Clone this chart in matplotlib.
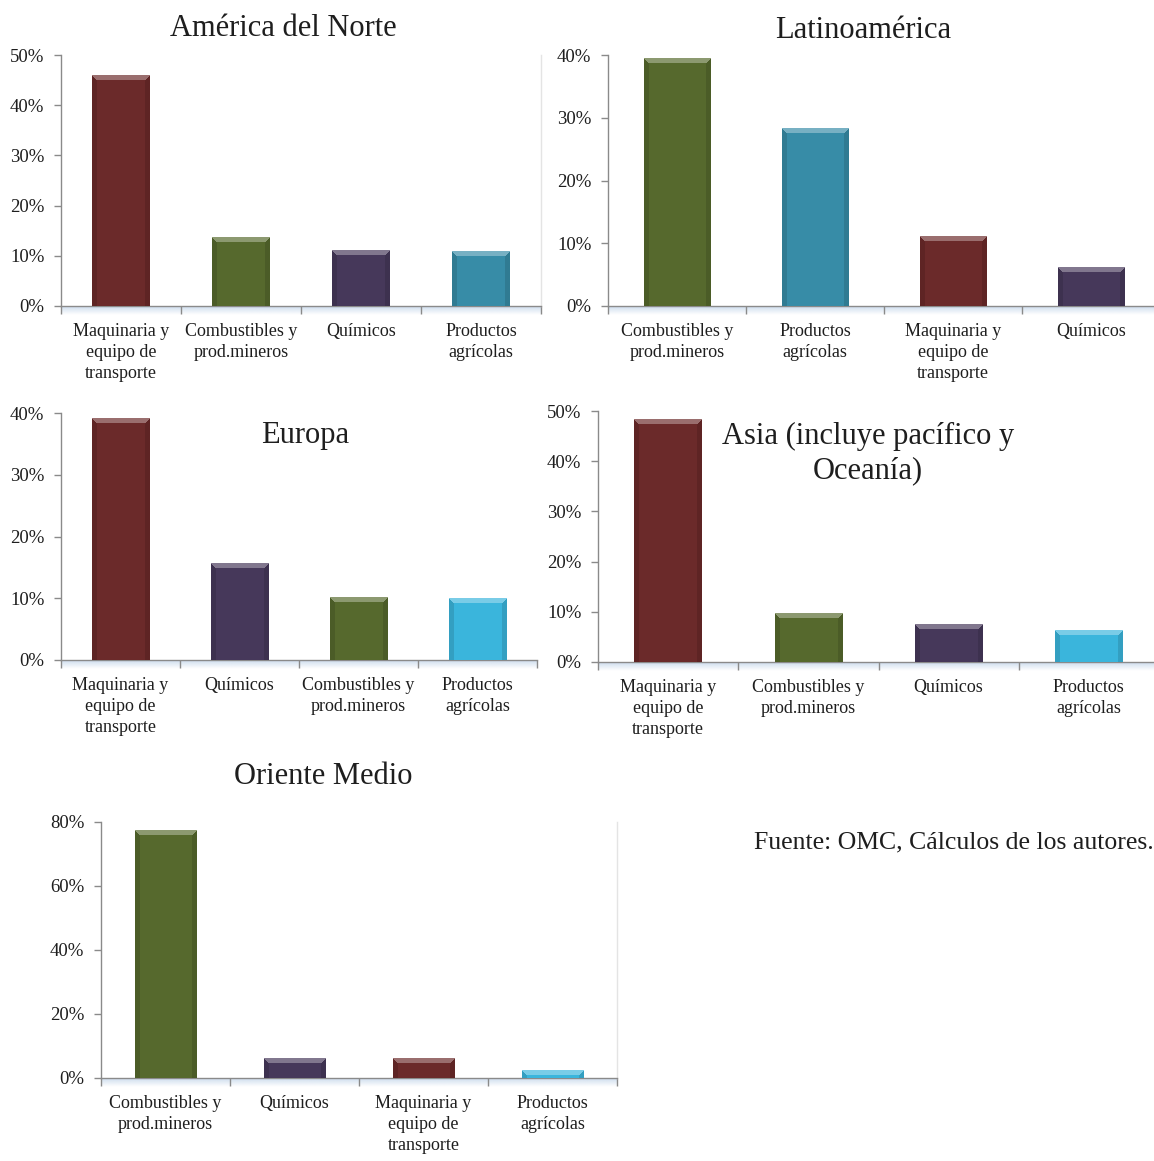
import numpy as np
import matplotlib
matplotlib.use("Agg")
import matplotlib.pyplot as plt
from matplotlib.ticker import FuncFormatter, FixedLocator
from matplotlib.colors import to_rgb

plt.rcParams['font.family'] = ['Liberation Serif', 'DejaVu Serif']

W, H, DPI = 1154, 1161, 100

MAQ = "Maquinaria y\nequipo de\ntransporte"
COMB = "Combustibles y\nprod.mineros"
QUIM = "Químicos"
AGRI = "Productos\nagrícolas"

# Share of exports by product group (%)
na_cats = [MAQ, COMB, QUIM, AGRI]
na_vals = [46.0, 13.6, 11.1, 10.8]

la_cats = [COMB, AGRI, MAQ, QUIM]
la_vals = [39.4, 28.3, 11.1, 6.2]

eu_cats = [MAQ, QUIM, COMB, AGRI]
eu_vals = [39.1, 15.7, 10.2, 9.9]

as_cats = [MAQ, COMB, QUIM, AGRI]
as_vals = [48.4, 9.6, 7.4, 6.3]

me_cats = [COMB, QUIM, MAQ, AGRI]
me_vals = [77.2, 6.2, 6.2, 2.5]

BASE_COLORS = {MAQ: "#6B2A2A", COMB: "#56692D", QUIM: "#46385A"}
AGRI_DARK = "#378CA7"
AGRI_BRIGHT = "#3AB5DC"

TEXT_COLOR = "#1E1E1E"
AXIS_COLOR = "#8A8A8A"

fig = plt.figure(figsize=(W / DPI, H / DPI), dpi=DPI)
fig.patch.set_facecolor("white")


def add_axes_px(left, top, right, bottom):
    return fig.add_axes([left / W, 1 - bottom / H, (right - left) / W, (bottom - top) / H])


def bevel_image(color, wpx, hpx, b=5):
    base = np.array(to_rgb(color))
    nx, ny = max(int(round(wpx)), 4), max(int(round(hpx)), 3)
    xx = np.arange(nx)[None, :] + 0.5
    yy = np.arange(ny)[:, None] + 0.5
    dx = np.minimum(xx, nx - xx) * np.ones_like(yy)
    dt = yy * np.ones_like(xx)
    img = np.tile(base, (ny, nx, 1))
    side = (dx < b) & ~((dt < b) & (dt < dx))
    img[side] = base * 0.88
    top = (dt < b) & (dt <= dx)
    light = base + (1 - base) * 0.32
    img[top] = light
    return img


def draw_panel(box, cats, vals, ymax, step, agri_color, right_line=False):
    ax = add_axes_px(*box)
    left, top, right, bottom = box
    px_per_cat = (right - left) / len(cats)
    px_per_unit = (bottom - top) / ymax
    x = np.arange(len(cats))
    colors = [agri_color if c == AGRI else BASE_COLORS[c] for c in cats]
    bars = ax.bar(x, vals, width=0.48, color=colors, edgecolor="none", zorder=2)
    for p, c in zip(bars.patches, colors):
        img = bevel_image(c, p.get_width() * px_per_cat, p.get_height() * px_per_unit)
        ax.imshow(img, extent=(p.get_x(), p.get_x() + p.get_width(), 0, p.get_height()),
                  aspect="auto", zorder=3, interpolation="nearest")
    # light floor shading beneath the category axis
    floor = np.linspace(0, 1, 20)[:, None] * np.ones((1, 2))
    rgba = np.zeros((20, 2, 4))
    rgba[..., :3] = to_rgb("#C9D9EC")
    rgba[..., 3] = 0.9 * (1 - floor)
    ax.imshow(rgba, extent=(0, 1, -9 / (bottom - top), 0), transform=ax.transAxes,
              aspect="auto", clip_on=False, zorder=0)
    ax.set_xlim(-0.5, len(cats) - 0.5)
    ax.set_ylim(0, ymax)
    ax.set_facecolor("none")
    ax.spines["top"].set_visible(False)
    if right_line:
        ax.spines["right"].set_color("#E4E4E4")
        ax.spines["right"].set_linewidth(1.0)
    else:
        ax.spines["right"].set_visible(False)
    for s in ("left", "bottom"):
        ax.spines[s].set_color(AXIS_COLOR)
        ax.spines[s].set_linewidth(1.0)
    ax.set_yticks(np.arange(0, ymax + step / 2, step))
    ax.yaxis.set_major_formatter(FuncFormatter(lambda v, _: f"{v:.0f}%"))
    ax.tick_params(axis="y", length=5, width=1, color=AXIS_COLOR, direction="out",
                   labelsize=13.5, labelcolor=TEXT_COLOR, pad=7)
    ax.set_xticks(x)
    ax.set_xticklabels(cats)
    ax.xaxis.set_minor_locator(FixedLocator(np.arange(-0.5, len(cats), 1.0)))
    ax.tick_params(axis="x", which="major", length=0, labelsize=13, labelcolor=TEXT_COLOR, pad=12)
    ax.tick_params(axis="x", which="minor", length=6, width=1, color=AXIS_COLOR, direction="out")
    for lab in ax.get_xticklabels():
        lab.set_linespacing(1.33)
    return ax


draw_panel((61, 55, 541, 306), na_cats, na_vals, 50, 10, AGRI_DARK, right_line=True)
draw_panel((608, 55, 1160, 306), la_cats, la_vals, 40, 10, AGRI_DARK)
draw_panel((61, 413, 537, 660), eu_cats, eu_vals, 40, 10, AGRI_BRIGHT)
draw_panel((598, 411, 1159, 662), as_cats, as_vals, 50, 10, AGRI_BRIGHT)
draw_panel((101, 822, 617, 1078), me_cats, me_vals, 80, 20, AGRI_BRIGHT, right_line=True)


def fig_text(xpx, ypx, s, size, ha="center"):
    fig.text(xpx / W, 1 - ypx / H, s, ha=ha, va="center", fontsize=size, color=TEXT_COLOR)


fig_text(283, 29, "América del Norte", 22)
fig_text(863, 30, "Latinoamérica", 22)
fig_text(305, 436, "Europa", 22)
fig_text(868, 436, "Asia (incluye pacífico y", 22)
fig_text(868, 471, "Oceanía)", 22)
fig_text(323, 777, "Oriente Medio", 22)
fig_text(1154, 842, "Fuente: OMC, Cálculos de los autores.", 18.5, ha="right")

fig.savefig("out.png", dpi=DPI, facecolor="white")
